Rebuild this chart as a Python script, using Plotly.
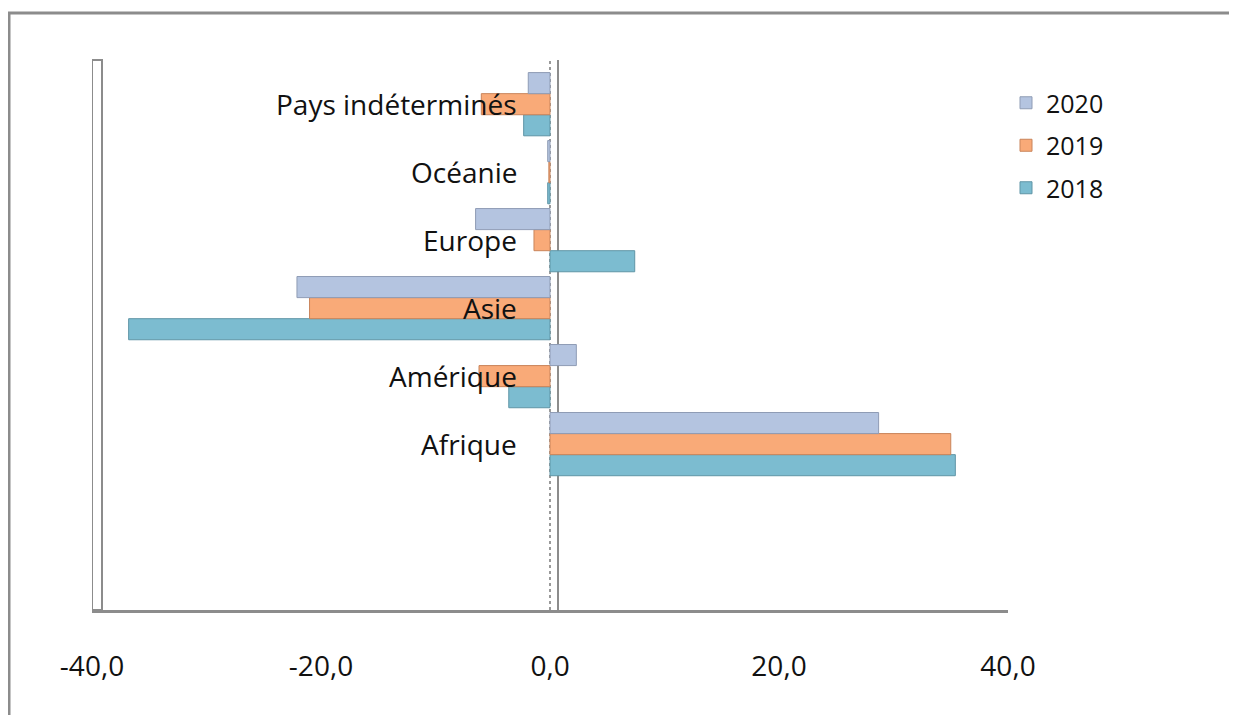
import plotly.graph_objects as go

categories = ["Afrique", "Amérique", "Asie", "Europe", "Océanie", "Pays indéterminés"]
years = ["2018", "2019", "2020"]
v2018 = [35.4, -3.6, -36.8, 7.4, -0.2, -2.3]
v2019 = [35.0, -6.2, -21.0, -1.4, -0.1, -6.0]
v2020 = [28.7, 2.3, -22.1, -6.5, -0.2, -1.9]
tick_vals = [-40, -20, 0, 20, 40]
tick_text = ["-40,0", "-20,0", "0,0", "20,0", "40,0"]

colors = {"2018": "#7cbcd0", "2019": "#f9aa78", "2020": "#b4c4e0"}
edge = {"2018": "#5f95a6", "2019": "#c9845a", "2020": "#8f9cb5"}
rank = {"2020": 1, "2019": 2, "2018": 3}
values = {"2018": v2018, "2019": v2019, "2020": v2020}

# page body has an 8px margin; figure is sized to fit the viewport
W, H = 1229, 707
FONT = "Open Sans"
ypos = list(range(len(categories)))

fig = go.Figure()
for yr in years:
    fig.add_trace(go.Bar(
        y=ypos, x=values[yr], orientation="h", name=yr,
        legendgroup=yr, legendrank=rank[yr],
        marker=dict(color=colors[yr], line=dict(color=edge[yr], width=1)),
    ))

# category labels near the zero line
for i, c in enumerate(categories):
    fig.add_annotation(x=0, y=i, xref="x", yref="y", text=c, showarrow=False,
                       xanchor="right", yanchor="middle", xshift=-31, yshift=0,
                       font=dict(family=FONT, size=28, color="#111111"))

shapes = []
# outer border
shapes.append(dict(type="rect", xref="paper", yref="paper",
                   x0=1 / W, x1=1.05, y0=-0.05, y1=1 - 5 / H,
                   line=dict(color="#8c8c8c", width=3), fillcolor="rgba(0,0,0,0)", layer="below"))
# left wall
shapes.append(dict(type="rect", xref="x", yref="y domain", xsizemode="pixel", xanchor=-40,
                   x0=0, x1=10, y0=0, y1=1,
                   line=dict(color="#8c8c8c", width=2), fillcolor="white", layer="below"))
# zero lines (front dotted, back solid)
shapes.append(dict(type="line", xref="x", yref="y domain", xsizemode="pixel", xanchor=0,
                   x0=0, x1=0, y0=0, y1=1,
                   line=dict(color="#9a9a9a", width=2, dash="dot"), layer="below"))
shapes.append(dict(type="line", xref="x", yref="y domain", xsizemode="pixel", xanchor=0,
                   x0=8, x1=8, y0=0, y1=1.0,
                   line=dict(color="#8c8c8c", width=2), layer="below"))
fig.update_layout(shapes=shapes)

fig.update_layout(
    width=W, height=H,
    margin=dict(l=0, r=0, t=0, b=0, autoexpand=False),
    paper_bgcolor="white", plot_bgcolor="white",
    barmode="group", bargap=0.07, bargroupgap=0,
    showlegend=True,
    legend=dict(x=998 / W, y=1 - 72 / H, xanchor="left", yanchor="top",
                traceorder="grouped", tracegroupgap=7, itemwidth=30,
                font=dict(family=FONT, size=25, color="#111111"),
                bgcolor="rgba(0,0,0,0)"),
    font=dict(family=FONT),
    xaxis=dict(range=[-40, 40], domain=[84 / W, 1000 / W],
               tickvals=tick_vals, ticktext=tick_text, ticks="",
               showgrid=False, zeroline=False,
               showline=True, linecolor="#8c8c8c", linewidth=3,
               ticklabelstandoff=29,
               tickfont=dict(family=FONT, size=28, color="#111111")),
    yaxis=dict(range=[-2.44, 5.65], domain=[1 - 602 / H, 1 - 52 / H],
               showticklabels=False, ticks="", showgrid=False, zeroline=False,
               showline=False),
)

fig.write_html("out.html")
